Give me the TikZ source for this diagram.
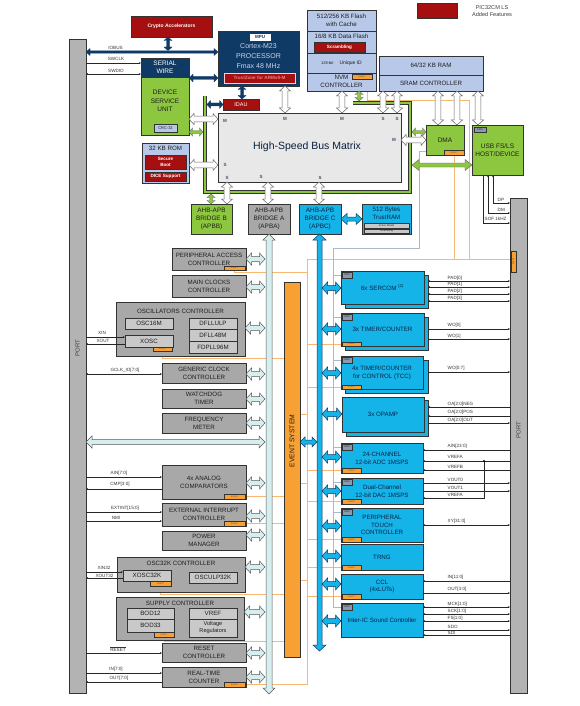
\documentclass[tikz,border=0pt]{standalone}
\usepackage{fontspec}
\setmainfont{Liberation Sans}
\usetikzlibrary{arrows.meta,calc,backgrounds}
\definecolor{navy}{HTML}{0F3A66}
\definecolor{navytext}{HTML}{C8D4E6}
\definecolor{dred}{HTML}{A50F0F}
\definecolor{lgreen}{HTML}{8DC63F}
\definecolor{lblue}{HTML}{B7C8E8}
\definecolor{cyanb}{HTML}{14B3E8}
\definecolor{ctext}{HTML}{0B2448}
\definecolor{gbox}{HTML}{A8A8A8}
\definecolor{gin}{HTML}{C9C9C9}
\definecolor{bmx}{HTML}{E8E8E8}
\definecolor{evo}{HTML}{F7A033}
\definecolor{evl}{HTML}{F9B871}
\definecolor{pale}{HTML}{D6EEEE}
\definecolor{portg}{HTML}{B3B3B3}
\definecolor{dmag}{HTML}{8A9BB0}
\definecolor{dmal}{HTML}{A7B9CB}
\definecolor{edge}{HTML}{333333}
\definecolor{txt}{HTML}{1E1E1E}
\definecolor{tzred}{HTML}{F08080}
\newcommand\blk[7]{\node[#1,minimum width={(#5-#3)*1pt},minimum height={(#6-#4)*1pt}] (#2) at ({(#3+#5)/2},{(#4+#6)/2}) {#7};}
\newcommand\vda[7]{\draw[#1] let \p1=(#3), \p2=(#4) in (#2pt,\y1) -- ({#2pt+#6pt},{\y1-#7pt}) -- ({#2pt+#5pt},{\y1-#7pt}) -- ({#2pt+#5pt},{\y2+#7pt}) -- ({#2pt+#6pt},{\y2+#7pt}) -- (#2pt,\y2) -- ({#2pt-#6pt},{\y2+#7pt}) -- ({#2pt-#5pt},{\y2+#7pt}) -- ({#2pt-#5pt},{\y1-#7pt}) -- ({#2pt-#6pt},{\y1-#7pt}) -- cycle;}
\newcommand\hda[7]{\draw[#1] let \p1=(#3), \p2=(#4) in (\x1,-#2pt) -- ({\x1+#7pt},{-#2pt+#6pt}) -- ({\x1+#7pt},{-#2pt+#5pt}) -- ({\x2-#7pt},{-#2pt+#5pt}) -- ({\x2-#7pt},{-#2pt+#6pt}) -- (\x2,-#2pt) -- ({\x2-#7pt},{-#2pt-#6pt}) -- ({\x2-#7pt},{-#2pt-#5pt}) -- ({\x1+#7pt},{-#2pt-#5pt}) -- ({\x1+#7pt},{-#2pt-#6pt}) -- cycle;}
\newcommand\hsig[4][-]{\draw[sig,#1] let \p1=(#3),\p2=(#4) in (\x1,-#2pt) -- (\x2,-#2pt);}
\tikzset{
 box/.style={draw=edge, line width=0.7pt, inner sep=0pt, outer sep=0pt, align=center, text=txt, font=\fontsize{6.2}{7.8}\selectfont},
 gb/.style={box, fill=gbox},
 gi/.style={box, fill=gin},
 cb/.style={box, fill=cyanb, text=ctext},
 grb/.style={box, fill=lgreen},
 lb/.style={box, fill=lblue},
 nb/.style={box, fill=navy, text=white},
 rb/.style={box, fill=dred, text=white, line width=0.5pt, font=\bfseries\fontsize{4.6}{5.4}\selectfont},
 evb/.style={draw=edge, line width=0.4pt, fill=evo, inner sep=0pt, outer sep=0pt, font=\fontsize{2}{2}\selectfont, text=black!70},
 dmat/.style={draw=edge, line width=0.4pt, fill=dmag, inner sep=0pt, outer sep=0pt, font=\fontsize{2.6}{2.6}\selectfont, text=black!80},
 wa/.style={draw=black!60, fill=white, line width=0.5pt},
 pa/.style={draw=black!65, fill=pale, line width=0.5pt},
 ca/.style={draw=navy, fill=cyanb, line width=0.5pt},
 na/.style={draw=navy, fill=navy, line width=0.3pt},
 ga/.style={draw=black!60, fill=lgreen, line width=0.4pt},
 sig/.style={draw=black!85, line width=0.5pt},
 slab/.style={font=\fontsize{4.6}{4.6}\selectfont, text=black!80, inner sep=0pt},
 evline/.style={draw=evl, line width=0.8pt},
 dmaline/.style={draw=dmal, line width=0.8pt},
 ms/.style={font=\bfseries\fontsize{4.5}{4.5}\selectfont, text=ctext!80, inner sep=0pt},
 ttl/.style={font=\fontsize{6.2}{7.8}\selectfont, text=txt, align=center, inner sep=0pt},
}
\begin{document}
\begin{tikzpicture}[x=1pt,y=-1pt,>={Stealth[length=2.2pt,width=1.8pt]}]
\useasboundingbox (0,0) rectangle (579,706);
% ---------------- ports
\blk{box, fill=portg}{portL}{69}{39}{86}{693}{}
\node[rotate=90, font=\fontsize{6}{6}\selectfont, text=black!75] (portLt) at (77.5,348) {PORT};
\blk{box, fill=portg}{portR}{510}{198}{527}{693}{}
\node[rotate=90, font=\fontsize{6}{6}\selectfont, text=black!75] (portRt) at (518.5,430) {PORT};
\node[evb, rotate=90, minimum width=21pt, minimum height=5pt] (portev) at (513.5,261.5) {EVENT};
% ---------------- top
\blk{rb, font=\bfseries\fontsize{5}{6}\selectfont}{crypto}{131}{16}{212}{37}{Crypto Accelerators}
\blk{rb}{legend}{417}{3}{457}{18}{}
\node[font=\fontsize{5.6}{7.4}\selectfont, text=black!75, align=center] (legendt) at (492,11) {PIC32CM LS\\Added Features};
\blk{nb}{cortex}{218}{31}{299}{86}{}
\blk{box, fill=white, text=navy, line width=0.5pt, font=\bfseries\fontsize{4.5}{4.5}\selectfont}{mpu}{249}{33}{271}{41}{MPU}
\node[font=\fontsize{7}{9.6}\selectfont, text=navytext, align=center] (cortext) at (258.5,56) {Cortex-M23\\PROCESSOR\\Fmax 48 MHz};
\blk{rb, draw=white!80!red, text=tzred}{tz}{224}{73}{295}{83}{TrustZone for ARMv8-M}
\blk{rb, font=\fontsize{5.5}{5.5}\selectfont}{idau}{223}{99}{259}{110}{IDAU}
\blk{nb, font=\fontsize{6.5}{8}\selectfont}{sw}{141}{58}{189}{77}{SERIAL\\WIRE}
\blk{grb}{dsu}{141}{77}{189}{135}{}
\node[font=\fontsize{6.5}{8.6}\selectfont, text=txt, align=center] (dsut) at (165,101) {DEVICE\\SERVICE\\UNIT};
\blk{lb, line width=0.5pt, font=\fontsize{4}{4}\selectfont}{crc}{154}{124}{177}{132}{CRC-32}
\blk{lb}{rom}{142}{143}{189}{183}{}
\node[ttl] (romt) at (165.5,148.5) {32 KB ROM};
\blk{rb}{sboot}{145}{155}{186}{169}{Secure\\Boot}
\blk{rb}{dice}{145}{172}{186}{181}{DICE Support}
% NVM
\blk{lb}{flash}{307}{10}{376}{31}{512/256 KB Flash\\with Cache}
\blk{lb}{dflash}{307}{31}{376}{53}{}
\node[ttl] (dflasht) at (341.5,36) {16/8 KB Data Flash};
\blk{rb}{scr}{314}{42}{365}{52}{Scrambling}
\blk{lb}{uid}{307}{53}{376}{73}{{\fontsize{4}{4}\selectfont 128-bit}\quad{\fontsize{5}{5}\selectfont Unique ID}}
\blk{lb}{nvmc}{307}{73}{376}{91}{}
\node[ttl] (nvmct) at (341.5,81.5) {NVM\\CONTROLLER};
\blk{evb}{nvmev}{352}{74}{372}{79}{EVENT}
\draw[edge, line width=0.9pt] (flash.north west) rectangle (nvmc.south east);
% SRAM
\blk{lb}{ram}{379}{56}{483}{75}{64/32 KB RAM}
\blk{lb}{sram}{379}{75}{483}{91}{SRAM CONTROLLER}
% bus matrix
\blk{box, fill=bmx}{bm}{218}{113}{401}{182}{}
\node[font=\fontsize{10.5}{10.5}\selectfont, text=ctext!85!black] (bmt) at (307,147) {High-Speed Bus Matrix};
\draw[edge, line width=4pt] (205,96) -- (205,192) -- (410,192) -- (410,103) -- (353,103);
\draw[lgreen, line width=2.6pt] (205,96) -- (205,192) -- (410,192) -- (410,103) -- (353,103);
\node[ms] (m1) at (225,121) {M};
\node[ms] (m2) at (285,119) {M};
\node[ms] (m3) at (342,119) {M};
\node[ms] (s1) at (383,119) {S};
\node[ms] (s2) at (397,119) {S};
\node[ms] (m4) at (394,140) {M};
\node[ms] (s3) at (225,165) {S};
\node[ms] (s4) at (227,178) {S};
\node[ms] (s5) at (261,177) {S};
\node[ms] (s6) at (320,178) {S};
% DMA, USB
\blk{grb, font=\fontsize{6.5}{6.5}\selectfont}{dma}{426}{125}{464}{155}{DMA}
\blk{evb}{dmaev}{444}{150}{464}{155}{EVENT}
\blk{grb, font=\fontsize{6.5}{8.2}\selectfont}{usb}{472}{125}{523}{175}{USB FS/LS\\HOST/DEVICE}
\blk{dmat}{usbdma}{474}{127}{486}{132}{DMA}
% bridges
\blk{grb, font=\fontsize{6.4}{8}\selectfont}{apbb}{191}{204}{232}{234}{AHB-APB\\BRIDGE B\\(APBB)}
\blk{gb, font=\fontsize{6.4}{8}\selectfont}{apba}{248}{204}{290}{234}{AHB-APB\\BRIDGE A\\(APBA)}
\blk{cb, font=\fontsize{6.4}{8}\selectfont}{apbc}{299}{204}{341}{234}{AHB-APB\\BRIDGE C\\(APBC)}
\blk{cb}{tram}{362}{204}{411}{234}{}
\node[ttl, text=ctext] (tramt) at (386.5,213) {512 Bytes\\TrustRAM};
\blk{gi, line width=0.4pt, font=\fontsize{2.6}{2.6}\selectfont}{ashield}{364}{223.5}{409}{228}{Active Shield}
\blk{gi, line width=0.4pt, font=\fontsize{2.6}{2.6}\selectfont}{tscr}{364}{229}{409}{233}{Scrambling}
% event system
\blk{box, fill=evo}{evs}{284}{282}{300}{657}{}
\node[rotate=90, font=\fontsize{6.8}{6.8}\selectfont, text=txt] (evst) at (292,441) {EVENT SYSTEM};
% ---------------- left peripherals
\blk{gb}{pac}{172}{248}{246}{270}{PERIPHERAL ACCESS\\CONTROLLER}
\blk{evb}{pacev}{224}{266}{245}{270}{EVENT}
\blk{gb}{mclk}{172}{275}{246}{297}{MAIN CLOCKS\\CONTROLLER}
\blk{gb}{oscc}{116}{302}{245}{356}{}
\node[ttl] (oscct) at (180.5,311) {OSCILLATORS CONTROLLER};
\blk{gi}{osc16}{125}{318}{173}{329}{OSC16M}
\blk{gi}{xosc}{125}{335}{173}{347}{XOSC}
\blk{evb}{xoscev}{153}{347}{172}{351}{EVENT}
\blk{gi}{dfllulp}{189}{318}{237}{329}{DFLLULP}
\blk{gi}{dfll48}{189}{329}{237}{341}{DFLL48M}
\blk{gi}{fdpll}{189}{341}{237}{353}{FDPLL96M}
\blk{gb}{gclk}{162}{363}{246}{383}{GENERIC CLOCK\\CONTROLLER}
\blk{gb}{wdt}{162}{389}{246}{408}{WATCHDOG\\TIMER}
\blk{gb}{freqm}{162}{413}{246}{433}{FREQUENCY\\METER}
\blk{gb}{ac}{162}{465}{246}{499}{4x ANALOG\\COMPARATORS}
\blk{evb}{acev}{224}{494}{245}{499}{EVENT}
\blk{gb}{eic}{162}{503}{246}{526}{EXTERNAL INTERRUPT\\CONTROLLER}
\blk{evb}{eicev}{224}{521}{245}{526}{EVENT}
\blk{gb}{pm}{162}{531}{246}{550}{POWER\\MANAGER}
\blk{gb}{o32c}{117}{557}{245}{592}{}
\node[ttl] (o32ct) at (181,563) {OSC32K CONTROLLER};
\blk{gi}{xosc32}{123}{570}{171}{581}{XOSC32K}
\blk{evb}{xosc32ev}{150}{581}{171}{586}{EVENT}
\blk{gi}{osculp}{189}{572}{237}{583}{OSCULP32K}
\blk{gb}{supc}{116}{597}{244}{640}{}
\node[ttl] (supct) at (180,603) {SUPPLY CONTROLLER};
\blk{gi}{bod12}{127}{608}{174}{619}{BOD12}
\blk{gi}{bod33}{127}{619}{174}{632}{BOD33}
\blk{evb}{supev}{154}{632}{174}{637}{EVENT}
\blk{gi}{vref}{189}{608}{237}{619}{VREF}
\blk{gi, font=\fontsize{5.6}{7}\selectfont}{vreg}{189}{619}{237}{637}{Voltage\\Regulators}
\blk{gb}{rstc}{162}{643}{246}{662}{RESET\\CONTROLLER}
\blk{gb}{rtc}{162}{667}{246}{687}{REAL-TIME\\COUNTER}
\blk{evb}{rtcev}{224}{682}{245}{687}{EVENT}
% ---------------- right peripherals
\blk{cb}{sercomsh}{345}{275}{428}{308}{}
\blk{cb}{sercom}{341}{271}{424}{304}{6x SERCOM \textsuperscript{(2)}}
\blk{dmat}{sercomdma}{342}{272}{352}{278}{DMA}
\blk{cb}{tcsh}{345}{317}{428}{350}{}
\blk{cb}{tc}{341}{313}{424}{346}{3x TIMER/COUNTER}
\blk{dmat}{tcdma}{342}{314}{352}{320}{DMA}
\blk{evb}{tcev}{342}{342}{361}{346}{EVENT}
\blk{cb}{tccsh}{345}{360}{428}{393}{}
\blk{cb}{tcc}{341}{356}{423}{389}{4x TIMER/COUNTER\\for CONTROL (TCC)}
\blk{dmat}{tccdma}{342}{357}{352}{363}{DMA}
\blk{evb}{tccev}{342}{385}{361}{389}{EVENT}
\blk{cb}{opampsh}{346}{400}{428}{436}{}
\blk{cb}{opamp}{342}{397}{424}{432}{3x OPAMP}
\blk{cb}{adc}{341}{443}{423}{473}{24-CHANNEL\\12-bit ADC 1MSPS}
\blk{dmat}{adcdma}{342}{444}{352}{450}{DMA}
\blk{evb}{adcev}{342}{468}{361}{473}{EVENT}
\blk{cb}{dac}{341}{478}{423}{504}{Dual-Channel\\12-bit DAC 1MSPS}
\blk{dmat}{dacdma}{342}{479}{352}{485}{DMA}
\blk{evb}{dacev}{342}{499}{361}{504}{EVENT}
\blk{cb}{ptc}{341}{508}{423}{542}{PERIPHERAL\\TOUCH\\CONTROLLER}
\blk{dmat}{ptcdma}{342}{509}{352}{515}{DMA}
\blk{evb}{ptcev}{342}{537}{361}{542}{EVENT}
\blk{cb}{trng}{341}{544}{423}{570}{TRNG}
\blk{evb}{trngev}{342}{565}{361}{570}{EVENT}
\blk{cb}{ccl}{341}{574}{423}{599}{CCL\\(4xLUTs)}
\blk{evb}{cclev}{342}{594}{361}{599}{EVENT}
\blk{cb}{i2s}{341}{603}{423}{637}{Inter-IC Sound Controller}
\blk{dmat}{i2sdma}{342}{604}{352}{610}{DMA}
% helper coordinates
\coordinate (ev307) at (307,259);
\coordinate (dmaL) at (333,248);
\coordinate (busAL) at (265,0);
\coordinate (busAbot) at (269,694);
\coordinate (busCR) at (322,0);
\coordinate (busCL) at (317,0);
\coordinate (busCbot) at (319.5,651);
\coordinate (gleftR) at (207,0);
\coordinate (gleftL) at (203,0);
\coordinate (grightR) at (412,0);
\coordinate (gbotB) at (0,194);
\coordinate (gtopT) at (0,101);
\coordinate (iob) at (0,50.5);
% ---------------- background lines
\begin{scope}[on background layer]
\fill[white] (0,0) rectangle (579,706);
\draw[evline] (pacev.south) -- ++(0,2) -- (307,272);
\draw[evline] (xoscev.south) |- (284,358);
\draw[evline] (acev.east) -- (evs.west |- acev.east);
\draw[evline] (eicev.east) -- (evs.west |- eicev.east);
\draw[evline] (xosc32ev.south) |- (284,594);
\draw[evline] (supev.south) |- (284,641);
\draw[evline] (rtcev.east) -- (307,684.5) -- (ev307) -- (portev.north |- ev307);
\draw[evline] ([xshift=5pt]nvmev.south) |- (469,100) -- (469,259);
\draw[evline] (dmaev.south) -- (dmaev.south |- ev307);
\foreach \e in {tcev,tccev,adcev,dacev,ptcev,trngev,cclev}
  \draw[evline] (\e.west) -- (\e.west -| ev307);
\foreach \yy in {414,483,580}
  \draw[evline] (300,\yy) -- (307,\yy);
\draw[dmaline] ([yshift=-11pt]dma.west) -- ++(-7,0) |- (dmaL) -- (333,607);
\foreach \dd in {sercomdma,tcdma,tccdma,adcdma,dacdma,ptcdma,i2sdma}
  \draw[dmaline] (\dd.west) -- (\dd.west -| dmaL);
\end{scope}
% ---------------- navy / green arrows
\hda{na}{52}{portL.east}{cortex.west}{1.2}{3.5}{4}
\vda{na}{168}{crypto.south}{iob}{1.5}{4}{3.5}
\hda{na}{78}{sw.east}{cortex.west}{1.5}{4}{4}
\vda{na}{242}{cortex.south}{idau.north}{1.5}{4}{3.5}
\hda{na}{104.5}{gleftR}{idau.west}{1.5}{4}{3.5}
\hda{ga}{132}{dsu.east}{gleftL}{1.5}{4}{3.5}
\hda{ga}{132}{grightR}{dma.west}{1.5}{4}{3.5}
\hda{ga}{165}{grightR}{usb.west}{2}{5.5}{7}
\vda{ga}{211}{gbotB}{apbb.north}{1.5}{4}{3.5}
\vda{ga}{359}{nvmc.south}{gtopT}{1.5}{4}{3.5}
% white arrows
\vda{wa}{285}{cortex.south}{bm.north}{2.8}{5.5}{5}
\vda{wa}{342}{nvmc.south}{bm.north}{2.8}{5.5}{5}
\vda{wa}{383}{sram.south}{bm.north}{2.8}{5.5}{5}
\vda{wa}{397}{sram.south}{bm.north}{2.8}{5.5}{5}
\vda{wa}{438}{sram.south}{dma.north}{2.8}{5.5}{5}
\vda{wa}{457}{sram.south}{dma.north}{2.8}{5.5}{5}
\vda{wa}{478}{sram.south}{usb.north}{2.8}{5.5}{5}
\hda{wa}{119}{dsu.east}{bm.west}{2.8}{5.5}{5}
\hda{wa}{165}{rom.east}{bm.west}{2.8}{5.5}{5}
\hda{wa}{140}{bm.east}{dma.west}{2.8}{5.5}{5}
\vda{wa}{227}{bm.south}{apbb.north}{2.8}{5.5}{5}
\vda{wa}{268}{bm.south}{apba.north}{2.8}{5.5}{5}
\vda{wa}{319}{bm.south}{apbc.north}{2.8}{5.5}{5}
\hda{ca}{219}{apbc.east}{tram.west}{2}{5.5}{6}
% buses
\vda{pa}{269}{apba.south}{busAbot}{3}{6}{6}
\vda{ca}{319.5}{apbc.south}{busCbot}{2.5}{6.5}{6}
\hda{pa}{442}{portL.east}{busAL}{2.5}{6}{6}
\hda{ca}{442}{evs.east}{busCL}{2}{5}{5}
\foreach \nm/\yy in {pac/259,mclk/287,oscc/328,gclk/374,wdt/399,freqm/423,ac/483,eic/516,pm/535,o32c/567,supc/612,rstc/653,rtc/677}
  {\hda{pa}{\yy}{\nm.east}{busAL}{2.5}{6}{5.5}}
\foreach \nm/\yy in {sercom/288,tc/329,tcc/373,opamp/414,adc/457,dac/491,ptc/526,trng/556,ccl/584,i2s/621}
  {\hda{ca}{\yy}{busCR}{\nm.west}{2.5}{6}{5.5}}
% ---------------- signals left
\hsig[->]{63}{portL.east}{sw.west}
\hsig[<->]{74}{portL.east}{sw.west}
\hsig[->]{337}{portL.east}{xosc.west}
\hsig[<-]{344}{portL.east}{xosc.west}
\hsig[<->]{374}{portL.east}{gclk.west}
\hsig[->]{477}{portL.east}{ac.west}
\hsig[<-]{489}{portL.east}{ac.west}
\hsig[->]{512}{portL.east}{eic.west}
\hsig[->]{521}{portL.east}{eic.west}
\hsig[->]{572}{portL.east}{xosc32.west}
\hsig[<-]{578}{portL.east}{xosc32.west}
\hsig[->]{653}{portL.east}{rstc.west}
\hsig[->]{673}{portL.east}{rtc.west}
\hsig[<-]{682}{portL.east}{rtc.west}
\node[slab] (lIOBUS) at (115.5,48) {IOBUS};
\node[slab] (lSWCLK) at (116,59) {SWCLK};
\node[slab] (lSWDIO) at (116,71) {SWDIO};
\node[slab] (lXIN) at (102,333) {XIN};
\node[slab] (lXOUT) at (103,341) {XOUT};
\node[slab] (lGCLK) at (125,370) {GCLK\_IO[7:0]};
\node[slab] (lAIN) at (119,473) {AIN[7:0]};
\node[slab] (lCMP) at (120,484.5) {CMP[3:0]};
\node[slab] (lEXT) at (125,508.5) {EXTINT[15:0]};
\node[slab] (lNMI) at (116,518) {NMI};
\node[slab] (lXIN32) at (104,568) {XIN32};
\node[slab] (lXOUT32) at (104.5,575.5) {XOUT32};
\node[slab] (lRST) at (118,649) {$\overline{\hbox{RESET}}$};
\node[slab] (lIN) at (116,669) {IN[7:0]};
\node[slab] (lOUT) at (119,678) {OUT[7:0]};
% ---------------- signals right
\foreach \yy in {281,287,294,301} {\hsig[<->]{\yy}{sercomsh.east}{portR.west}}
\hsig[->]{329}{tcsh.east}{portR.west}
\hsig[->]{339}{tcsh.east}{portR.west}
\hsig[->]{372}{tccsh.east}{portR.west}
\hsig[<-]{407}{opampsh.east}{portR.west}
\hsig[<-]{416}{opampsh.east}{portR.west}
\hsig[->]{423}{opampsh.east}{portR.west}
\hsig[<-]{450}{adc.east}{portR.west}
\hsig[<-]{461}{adc.east}{portR.west}
\hsig[<-]{470}{adc.east}{portR.west}
\hsig[->]{483}{dac.east}{portR.west}
\hsig[->]{491}{dac.east}{portR.west}
\draw[sig,->] let \p1=(dac.east) in (484pt,-461pt) -- (484pt,-498pt) -- (\x1,-498pt);
\fill[black] (484,461) circle (1.1pt);
\hsig[<->]{525}{ptc.east}{portR.west}
\hsig[<-]{581}{ccl.east}{portR.west}
\hsig[->]{593}{ccl.east}{portR.west}
\hsig[<->]{607}{i2s.east}{portR.west}
\hsig[<->]{614}{i2s.east}{portR.west}
\hsig[<->]{621}{i2s.east}{portR.west}
\hsig[->]{630}{i2s.east}{portR.west}
\hsig[<-]{635}{i2s.east}{portR.west}
\foreach \t/\yy [count=\i] in {PAD[0]/278,PAD[1]/284.5,PAD[2]/291.5,PAD[3]/298,WO[0]/325.5,WO[1]/336,WO[0:7]/368.5,OA[2:0]NEG/404,OA[2:0]POS/412.5,OA[2:0]OUT/420,AIN[23:0]/446.5,VREFA/456.5,VREFB/466.5,VOUT0/479.5,VOUT1/487.5,VREFA/495,XY[31:0]/521,IN[11:0]/577.5,OUT[3:0]/589.5,MCK[1:0]/604.5,SCK[1:0]/611.5,FS[1:0]/618.5,SDO/627,SDI/632.5}
  {\node[slab, anchor=west] (r\i) at (447.5,\yy) {\t};}
% USB lines
\coordinate (pr203) at (510,203);
\coordinate (pr213) at (510,213);
\coordinate (pr223) at (510,223);
\draw[sig,<->] ([xshift=-4.5pt]usb.south) |- (pr203);
\draw[sig,<->] ([xshift=-9.5pt]usb.south) |- (pr213);
\draw[sig,->] ([xshift=-14.5pt]usb.south) |- (pr223);
\node[slab, anchor=west] (lDP) at (497.5,199.5) {DP};
\node[slab, anchor=west] (lDM) at (497.5,209.5) {DM};
\node[slab, anchor=west] (lSOF) at (484.5,218.5) {SOF 1kHZ};
\end{tikzpicture}
\end{document}
